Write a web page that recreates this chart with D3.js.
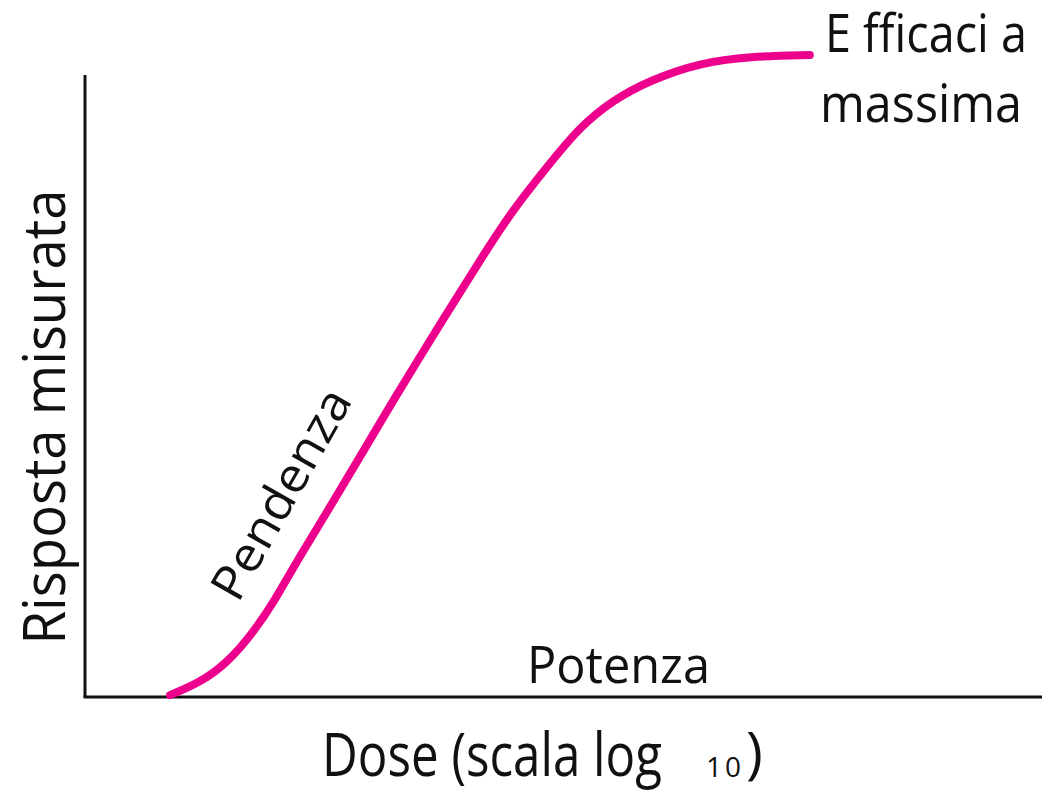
<!DOCTYPE html>
<html>
<head>
<meta charset="utf-8">
<script src="https://cdn.jsdelivr.net/npm/d3@7"></script>
<style>
  body { margin: 0; background: #fff; }
  text { font-family: "Open Sans", "Noto Sans", sans-serif; fill: #111; }
</style>
</head>
<body>
<div id="chart"></div>
<script>
// dose position (0-100 along log axis) and response (% of max)
const dose = [8.9, 12.0, 14.9, 17.6, 19.9, 21.8, 25.3, 28.8, 32.3, 37.9, 41.4, 44.8, 48.4, 51.8, 55.3, 59.2, 64.4, 69.6, 75.9];
const response = [0.3, 2.2, 5.3, 10.0, 15.1, 20.2, 28.7, 37.4, 46.3, 59.8, 68.1, 75.9, 82.6, 88.8, 93.0, 96.1, 98.8, 99.8, 100];

const labels = {
    yTitle: "Risposta misurata",
    xTitle: "Dose (scala log",
    xSub: "10",
    slope: "Pendenza",
    potency: "Potenza",
    efficacy1: "E fficaci a",
    efficacy2: "massima"
};

const width = 1056;
const height = 791;

const svg = d3.select("#chart")
    .append("svg")
    .attr("width", width)
    .attr("height", height);

const x = d3.scaleLinear().domain([0, 100]).range([85, 1040]);
const y = d3.scaleLinear().domain([0, 100]).range([697, 55]);

// axes (plain lines, no ticks)
svg.append("line")
    .attr("x1", x(0)).attr("y1", 75)
    .attr("x2", x(0)).attr("y2", y(0))
    .style("stroke", "#111")
    .style("stroke-width", 3);

svg.append("line")
    .attr("x1", x(0) - 1.5).attr("y1", y(0))
    .attr("x2", x(100) + 2).attr("y2", y(0))
    .style("stroke", "#111")
    .style("stroke-width", 3);

// dose-response curve
const pts = dose.map((d, i) => [d, response[i]]);
const line = d3.line()
    .x(d => x(d[0]))
    .y(d => y(d[1]))
    .curve(d3.curveBasis);

svg.append("path")
    .datum(pts)
    .attr("d", line)
    .style("fill", "none")
    .style("stroke", "#EC008C")
    .style("stroke-width", 8)
    .style("stroke-linecap", "round");

// labels
svg.append("text")
    .attr("transform", "translate(65,417) rotate(-90)")
    .attr("text-anchor", "middle")
    .attr("textLength", 455)
    .attr("lengthAdjust", "spacingAndGlyphs")
    .style("font-size", "58px")
    .text(labels.yTitle);

svg.append("text")
    .attr("x", 322).attr("y", 776)
    .attr("textLength", 340)
    .attr("lengthAdjust", "spacingAndGlyphs")
    .style("font-size", "60px")
    .text(labels.xTitle);

// subscript of the log base
svg.append("text")
    .attr("x", 706).attr("y", 777)
    .style("font-size", "28px")
    .style("letter-spacing", "3px")
    .text(labels.xSub);

svg.append("text")
    .attr("x", 746).attr("y", 773)
    .style("font-size", "57px")
    .text(")");

svg.append("text")
    .attr("x", 527).attr("y", 683)
    .attr("textLength", 183)
    .attr("lengthAdjust", "spacingAndGlyphs")
    .style("font-size", "52px")
    .text(labels.potency);

svg.append("text")
    .attr("x", 825).attr("y", 52)
    .attr("textLength", 202)
    .attr("lengthAdjust", "spacingAndGlyphs")
    .style("font-size", "53px")
    .text(labels.efficacy1);

svg.append("text")
    .attr("x", 820).attr("y", 122)
    .attr("textLength", 202)
    .attr("lengthAdjust", "spacingAndGlyphs")
    .style("font-size", "53px")
    .text(labels.efficacy2);

svg.append("text")
    .attr("transform", "translate(238,604) rotate(-60.5)")
    .attr("textLength", 234)
    .attr("lengthAdjust", "spacingAndGlyphs")
    .style("font-size", "48px")
    .text(labels.slope);
</script>
</body>
</html>
